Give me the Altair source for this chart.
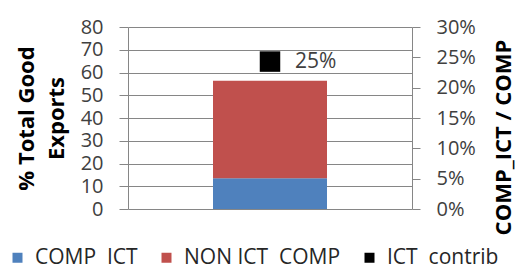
import altair as alt
import pandas as pd

NB = "\u00a0\u00a0"
category = ["C"]
series = ["COMP" + NB + "ICT", "NON ICT" + NB + "COMP"]
comp_ict = [13.5]
non_ict_comp = [42.9]
ict_contrib_share = [0.243]
ict_contrib_label = ["25%"]
legend_order = series + ["ICT" + NB + "contrib"]
colors = ["#4F81BD", "#C0504D", "#000000"]

bars = pd.DataFrame({
    "cat": category * 2,
    "series": series,
    "value": comp_ict + non_ict_comp,
    "order": [0, 1],
})
pts = pd.DataFrame({
    "cat": category,
    "series": [legend_order[2]],
    "share": ict_contrib_share,
    "label": ict_contrib_label,
})

FONT = "Open Sans"
color = alt.Color("series:N", scale=alt.Scale(domain=legend_order, range=colors),
                  legend=alt.Legend(title=None, orient="none", direction="horizontal",
                                    legendX=-121, legendY=220, symbolType="square",
                                    symbolSize=100, labelFontSize=21, labelFont=FONT,
                                    labelColor="#262626", columnPadding=18, labelOffset=7,
                                    symbolStrokeWidth=0))
xenc = alt.X("cat:N", axis=None, scale=alt.Scale(domain=category))

bar = alt.Chart(bars).mark_bar(size=114).encode(
    x=xenc,
    y=alt.Y("value:Q", stack="zero",
            scale=alt.Scale(domain=[0, 80]),
            axis=alt.Axis(values=list(range(0, 81, 10)), title=["% Total Good", "Exports"],
                          titleFontSize=22, titleFont=FONT, titleFontWeight="bold",
                          titleColor="#000000", titleLineHeight=30, titlePadding=12,
                          labelFontSize=20, labelFont=FONT, labelColor="#404040",
                          grid=True, gridColor="#868686", domainColor="#868686",
                          tickColor="#868686", tickSize=9, labelPadding=16)),
    color=color,
    order=alt.Order("order:Q"),
)

yr = alt.Y("share:Q", scale=alt.Scale(domain=[0, 0.3]),
           axis=alt.Axis(orient="right", values=[0, 0.05, 0.1, 0.15, 0.2, 0.25, 0.3],
                         format=".0%", title="COMP_ICT / COMP",
                         titleFontSize=22, titleFont=FONT, titleFontWeight="bold",
                         titleColor="#000000", titleX=98, titleY=110, titleAngle=270,
                         titleAlign="center", titleBaseline="alphabetic",
                         labelFontSize=20, labelFont=FONT, labelColor="#404040",
                         grid=False, domainColor="#868686", tickColor="#868686",
                         tickSize=8, labelPadding=16))

pt = alt.Chart(pts).mark_point(shape="square", filled=True, size=420, opacity=1).encode(
    x=xenc, y=yr, color=color,
)
txt = alt.Chart(pts).mark_text(align="left", baseline="middle", dx=25, fontSize=21,
                               font=FONT, color="#404040").encode(
    x=xenc, y=yr,
    text="label:N",
)

right = alt.layer(pt, txt)
chart = alt.layer(bar, right).resolve_scale(y="independent").properties(
    width=284, height=182,
    padding={"left": 120, "top": 19, "right": 103, "bottom": 60},
    autosize=alt.AutoSizeParams(type="none"),
).configure_view(stroke=None)

chart.save("out.html", embed_options={"renderer": "svg", "actions": False})
